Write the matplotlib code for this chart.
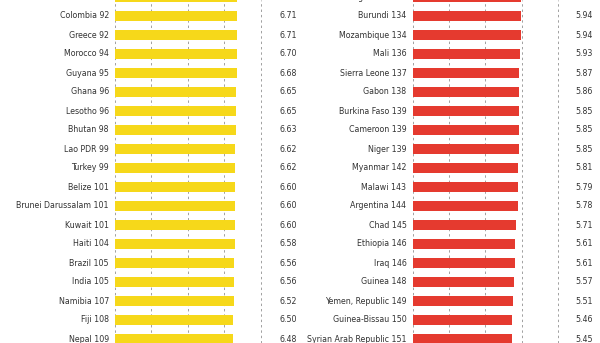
import matplotlib.pyplot as plt

# left column (yellow) and right column (red), top row is cut off in the source
left_names = ["Tanzania", "Colombia", "Greece", "Morocco", "Guyana", "Ghana", "Lesotho",
              "Bhutan", "Lao PDR", "Turkey", "Belize", "Brunei Darussalam", "Kuwait",
              "Haiti", "Brazil", "India", "Namibia", "Fiji", "Nepal"]
left_ranks = [91, 92, 92, 94, 95, 96, 96, 98, 99, 99, 101, 101, 101, 104, 105, 105, 107, 108, 109]
left_values = [6.72, 6.71, 6.71, 6.70, 6.68, 6.65, 6.65, 6.63, 6.62, 6.62, 6.60, 6.60, 6.60,
               6.58, 6.56, 6.56, 6.52, 6.50, 6.48]

right_names = ["Bangladesh", "Burundi", "Mozambique", "Mali", "Sierra Leone", "Gabon",
               "Burkina Faso", "Cameroon", "Niger", "Myanmar", "Malawi", "Argentina", "Chad",
               "Ethiopia", "Iraq", "Guinea", "Yemen, Republic", "Guinea-Bissau",
               "Syrian Arab Republic"]
right_ranks = [133, 134, 134, 136, 137, 138, 139, 139, 139, 142, 143, 144, 145, 146, 146, 148,
               149, 150, 151]
right_values = [5.95, 5.94, 5.94, 5.93, 5.87, 5.86, 5.85, 5.85, 5.85, 5.81, 5.79, 5.78, 5.71,
                5.61, 5.61, 5.57, 5.51, 5.46, 5.45]

grid_ticks = [0, 2, 4, 6, 8]

# condensed face so the long names fit like the original
font_kw = dict(family='DejaVu Sans', stretch='condensed', fontsize=6.3)

W, H = 600, 343
fig = plt.figure(figsize=(W / 100, H / 100), dpi=100)

unit = 18.2  # px per unit on x
x0_units = -0.1
x1_units = 8.1


def panel(left_px, names, ranks, values, color, val_x):
    ax = fig.add_axes([(left_px + x0_units * unit) / W, 0,
                       (x1_units - x0_units) * unit / W, 1])
    ax.set_xlim(x0_units, x1_units)
    n = len(names)
    ax.set_ylim(346 / 19, 3 / 19)
    ax.axis('off')
    for t in grid_ticks:
        ax.axvline(t, color='#a0a0a0', lw=0.7, ls=(0, (2.5, 3)), zorder=1)
    ax.barh(range(n), values, height=0.48, color=color, zorder=2)
    for i in range(n):
        ax.text(-0.33, i, "%s %d" % (names[i], ranks[i]), ha='right', va='center',
                color='#333333', clip_on=False, **font_kw)
        ax.text(val_x, i, "%.2f" % values[i], ha='right', va='center',
                color='#333333', clip_on=False, **font_kw)
    return ax


panel(115, left_names, left_ranks, left_values, '#f6d81a', 10.0)
panel(412.5, right_names, right_ranks, right_values, '#e53a2f', 9.9)

fig.savefig('out.png', dpi=100, facecolor='white')
